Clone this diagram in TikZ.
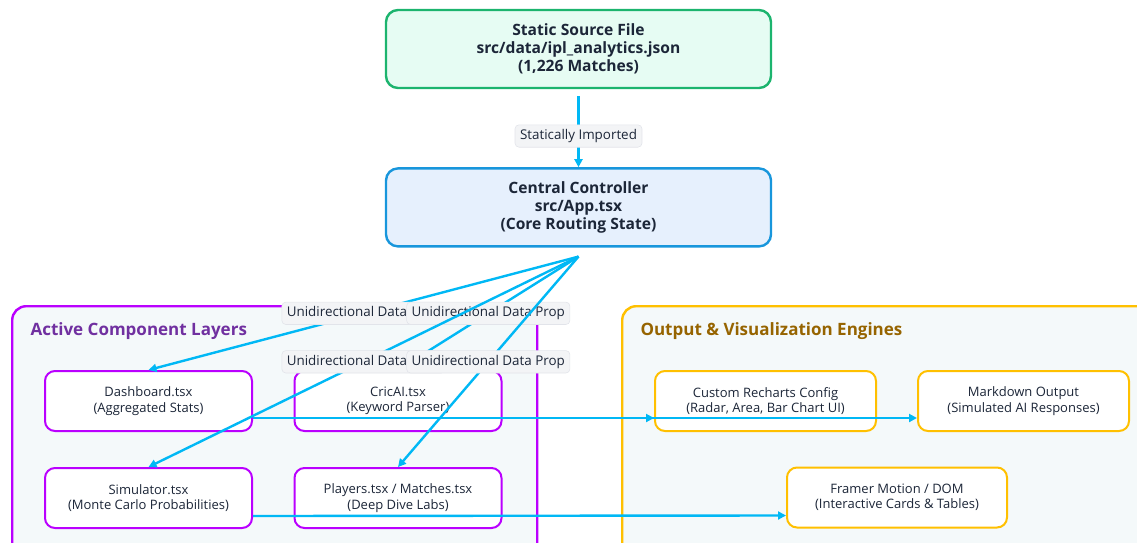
\documentclass[tikz,border=0pt]{standalone}
\usepackage{fontspec}
\setmainfont{Open Sans}
\setsansfont{Open Sans}
\usetikzlibrary{arrows.meta, positioning, calc}

\begin{document}
\begin{tikzpicture}[
    x=1pt, y=-1pt,
    font=\sffamily,
    >={Triangle[length=8pt,width=8pt]},
    % --- Styles ---
    mainbox/.style={
        rectangle, minimum width=385pt, minimum height=78pt,
        align=center, rounded corners=12pt, line width=2.4pt, text=ink,
        font=\sffamily\bfseries\fontsize{15.6}{18}\selectfont
    },
    group/.style={
        rectangle, anchor=north west, minimum height=270pt,
        rounded corners=14pt, line width=2.4pt, fill=grp_fill
    },
    comp/.style={
        rectangle, minimum width=207pt, minimum height=60pt,
        align=center, rounded corners=10pt, line width=2pt,
        fill=white, draw=comp_border, text=ink,
        font=\sffamily\fontsize{13}{15.5}\selectfont
    },
    outbox/.style={comp, draw=out_border},
    grptitle/.style={anchor=west, font=\sffamily\bfseries\fontsize{17}{20}\selectfont},
    edge/.style={->, line width=2.4pt, draw=flow},
    flowlabel/.style={
        fill=lbl_fill, draw=lbl_border, line width=0.6pt, rounded corners=4pt,
        inner xsep=5pt, inner ysep=4.5pt, text=ink,
        font=\sffamily\fontsize{13.4}{16}\selectfont
    }
]

    % ── Colour Palette ──────────────────────────────────────────────────
    \definecolor{ink}{RGB}{28, 38, 56}
    \definecolor{src_fill}{RGB}{230, 252, 243}
    \definecolor{src_border}{RGB}{28, 180, 110}
    \definecolor{ctrl_fill}{RGB}{230, 240, 253}
    \definecolor{ctrl_border}{RGB}{24, 150, 220}
    \definecolor{grp_fill}{RGB}{244, 249, 250}
    \definecolor{comp_border}{RGB}{186, 0, 255}
    \definecolor{comp_title}{RGB}{112, 48, 160}
    \definecolor{out_border}{RGB}{255, 192, 0}
    \definecolor{out_title}{RGB}{150, 100, 0}
    \definecolor{flow}{RGB}{0, 184, 245}
    \definecolor{lbl_fill}{RGB}{243, 244, 246}
    \definecolor{lbl_border}{RGB}{226, 228, 234}

    \useasboundingbox (0,0) rectangle (1137,543);

    % ── GROUPS ──────────────────────────────────────────────────────────
    \node (actgrp) [group, draw=comp_border, minimum width=525pt] at (11,305) {};
    \node [grptitle, text=comp_title] at (27,331) {Active Component Layers};

    \node (outgrp) [group, draw=out_border, minimum width=540pt] at (621,305) {};
    \node [grptitle, text=out_title] at (637,331) {Output \& Visualization Engines};

    % ── NODES ───────────────────────────────────────────────────────────

    % Source
    \node (src) [mainbox, fill=src_fill, draw=src_border] at (578.5,49)
        {Static Source File\\src/data/ipl\_analytics.json\\(1,226 Matches)};

    % Controller
    \node (ctrl) [mainbox, fill=ctrl_fill, draw=ctrl_border, below=78pt of src]
        {Central Controller\\src/App.tsx\\(Core Routing State)};
    \coordinate (hub) at ($(ctrl.south)+(0,9)$);

    % Components
    \node (dash) [comp] at (148.5,401) {Dashboard.tsx\\(Aggregated Stats)};
    \node (cricai) [comp] at (398,401) {CricAI.tsx\\(Keyword Parser)};
    \node (sim) [comp] at (148.5,498) {Simulator.tsx\\(Monte Carlo Probabilities)};
    \node (players) [comp] at (398,498) {Players.tsx / Matches.tsx\\(Deep Dive Labs)};

    % Outputs
    \node (rech) [outbox, minimum width=221pt] at (765.5,401)
        {Custom Recharts Config\\(Radar, Area, Bar Chart UI)};
    \node (mdout) [outbox, minimum width=211pt] at (1023.5,401)
        {Markdown Output\\(Simulated AI Responses)};
    \node (framer) [outbox, minimum width=220pt] at (897,497.5)
        {Framer Motion / DOM\\(Interactive Cards \& Tables)};

    % ── ARROWS ──────────────────────────────────────────────────────────

    \draw [edge, shorten <=7pt] (src) -- node[flowlabel, pos=0.6] {Statically Imported} (ctrl);

    \draw [edge] (hub) -- node[flowlabel] {Unidirectional Data Prop} (dash.north);
    \draw [edge] (hub) -- node[flowlabel] {Unidirectional Data Prop} (cricai.north);
    \draw [edge] (hub) -- node[flowlabel] {Unidirectional Data Prop} (sim.north);
    \draw [edge] (hub) -- node[flowlabel] {Unidirectional Data Prop} (players.north);

    \draw [edge] ([yshift=-17pt]dash.east) -- ([yshift=-17pt]rech.west);
    \draw [edge] ([yshift=-17pt]cricai.east) -- ([yshift=-17pt]mdout.west);
    \draw [edge] ([yshift=-18pt]sim.east) -- ([yshift=-18pt]framer.west);

\end{tikzpicture}
\end{document}
